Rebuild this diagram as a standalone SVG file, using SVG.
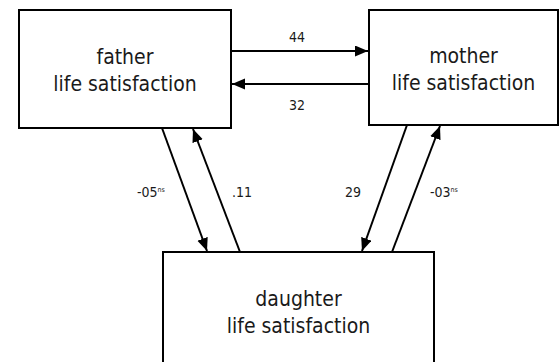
<svg xmlns="http://www.w3.org/2000/svg" width="560" height="362" viewBox="0 0 560 362">
<style>
.box{fill:#fff;stroke:#000;stroke-width:2}
.lbl{font-family:"DejaVu Sans Condensed","DejaVu Sans",sans-serif;font-size:21px;fill:#1a1a1a;text-anchor:middle}
.num{font-family:"DejaVu Sans Condensed","DejaVu Sans",sans-serif;font-size:14px;fill:#1a1a1a}
.sup{font-size:7px}
.edge{stroke:#000;stroke-width:2;fill:none;marker-end:url(#ah)}
</style>
<defs>
<marker id="ah" markerUnits="userSpaceOnUse" markerWidth="14" markerHeight="12" refX="13" refY="5.5" orient="auto">
<path d="M0,0 L13,5.5 L0,11 z" fill="#000"/>
</marker>
</defs>
<rect width="560" height="362" fill="#fff"/>
<g id="father">
<rect class="box" x="19" y="10" width="212" height="118"/>
<text class="lbl" x="125" y="64">father</text>
<text class="lbl" x="125" y="91">life satisfaction</text>
</g>
<g id="mother">
<rect class="box" x="369" y="10" width="189" height="115"/>
<text class="lbl" x="463.5" y="63">mother</text>
<text class="lbl" x="463.5" y="90">life satisfaction</text>
</g>
<g id="daughter">
<rect class="box" x="163" y="252" width="271" height="130"/>
<text class="lbl" x="298.5" y="306">daughter</text>
<text class="lbl" x="298.5" y="333">life satisfaction</text>
</g>
<g id="connectors">
<line class="edge" x1="231" y1="51" x2="368" y2="51"/>
<line class="edge" x1="369" y1="84" x2="232" y2="84"/>
<line class="edge" x1="162" y1="128" x2="207" y2="251"/>
<line class="edge" x1="240" y1="252" x2="193" y2="129"/>
<line class="edge" x1="407" y1="125" x2="362" y2="251"/>
<line class="edge" x1="392" y1="252" x2="440" y2="126"/>
<text class="num" x="297" y="42" text-anchor="middle">44</text>
<text class="num" x="297" y="110" text-anchor="middle">32</text>
<text class="num" x="242" y="197" text-anchor="middle">.11</text>
<text class="num" x="353" y="197" text-anchor="middle">29</text>
<text class="num" x="137" y="197">-05<tspan class="sup" dy="-5">ns</tspan></text>
<text class="num" x="430" y="197">-03<tspan class="sup" dy="-5">ns</tspan></text>
</g>
</svg>
